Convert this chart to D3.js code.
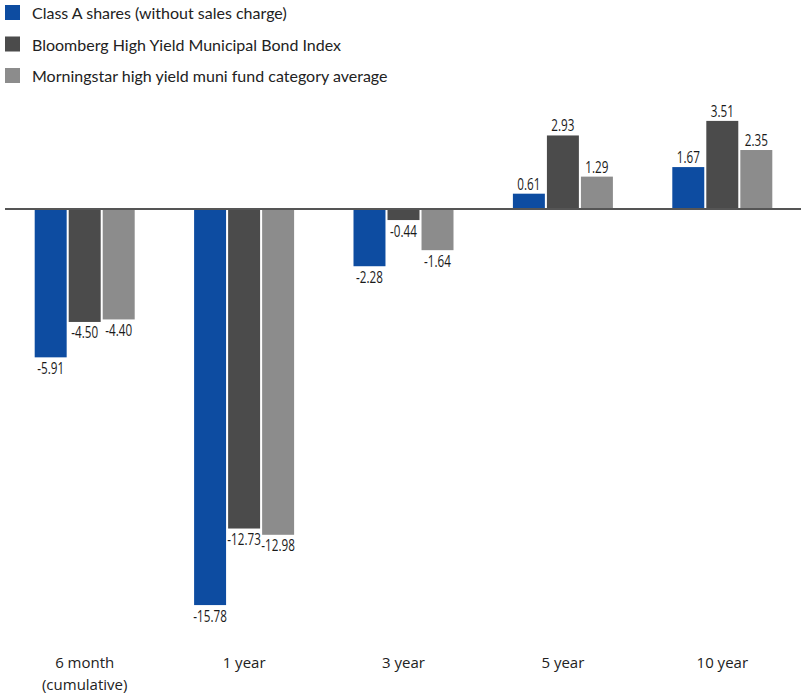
<!DOCTYPE html>
<html>
<head>
<meta charset="utf-8">
<script src="https://cdn.jsdelivr.net/npm/d3@7"></script>
<style>
  body { margin: 0; background: #fff; }
  svg { display: block; }
  .legend text { font-family: Lato, "Open Sans", sans-serif; fill: #222; }
  .cat text { font-family: "Open Sans", "Noto Sans", sans-serif; fill: #222; }
  .val { font-family: "Open Sans", "Noto Sans", sans-serif; fill: #1a1a1a; }
</style>
</head>
<body>
<div id="chart"></div>
<script>
var width = 801;
var height = 696;

// data
var periods = ['6 month\n(cumulative)', '1 year', '3 year', '5 year', '10 year'];
var series = [
  'Class A shares (without sales charge)',
  'Bloomberg High Yield Municipal Bond Index',
  'Morningstar high yield muni fund category average'
];
var classA = [-5.91, -15.78, -2.28, 0.61, 1.67];
var bloomberg = [-4.50, -12.73, -0.44, 2.93, 3.51];
var morningstar = [-4.40, -12.98, -1.64, 1.29, 2.35];
var colors = ['#0d4ca1', '#4b4b4b', '#8c8c8c'];

var values = [classA, bloomberg, morningstar];

var svg = d3.select('#chart')
  .append('svg')
  .attr('width', width)
  .attr('height', height);

var x0 = d3.scaleBand()
  .domain(periods)
  .range([5, 802]);

var x1 = d3.scaleBand()
  .domain(series)
  .range([0, 100])
  .paddingInner(0.06);

var y = d3.scaleLinear()
  .domain([-16, 4])
  .range([209 + 16 * 25.1, 209 - 4 * 25.1]);

// legend
var legend = svg.append('g').attr('class', 'legend')
  .selectAll('g')
  .data(series)
  .enter().append('g')
  .attr('transform', function(d, i) { return 'translate(5,' + (5 + i * 31.5) + ')'; });

legend.append('rect')
  .attr('width', 15)
  .attr('height', 15)
  .attr('fill', function(d, i) { return colors[i]; });

legend.append('text')
  .attr('x', 27)
  .attr('y', 14)
  .style('font-size', '16px')
  .text(function(d) { return d; });

// bars
var rows = [];
periods.forEach(function(p, i) {
  series.forEach(function(s, j) {
    rows.push({ period: p, series: s, j: j, value: values[j][i] });
  });
});

var groupStart = function(p) { return x0(p) + x0.bandwidth() / 2 - 50; };

svg.append('g')
  .selectAll('rect')
  .data(rows)
  .enter().append('rect')
  .attr('x', function(d) { return groupStart(d.period) + x1(d.series); })
  .attr('width', x1.bandwidth())
  .attr('y', function(d) { return y(Math.max(0, d.value)); })
  .attr('height', function(d) { return Math.abs(y(d.value) - y(0)); })
  .attr('fill', function(d) { return colors[d.j]; });

// value labels (narrowed to mimic a condensed face)
svg.append('g')
  .selectAll('text')
  .data(rows)
  .enter().append('text')
  .attr('class', 'val')
  .attr('text-anchor', 'middle')
  .style('font-size', '16px')
  .attr('transform', function(d) {
    var cx = groupStart(d.period) + x1(d.series) + x1.bandwidth() / 2;
    var ty = d.value < 0 ? y(d.value) + 16.5 : y(d.value) - 4;
    return 'translate(' + cx + ',' + ty + ') scale(0.73,1)';
  })
  .text(function(d) { return d.value.toFixed(2); });

// zero line
svg.append('line')
  .attr('x1', 5)
  .attr('x2', width)
  .attr('y1', y(0))
  .attr('y2', y(0))
  .attr('stroke', '#555')
  .attr('stroke-width', 2);

// category labels
var cat = svg.append('g').attr('class', 'cat')
  .selectAll('text')
  .data(periods)
  .enter().append('text')
  .attr('text-anchor', 'middle')
  .style('font-size', '15px')
  .attr('x', function(d) { return x0(d) + x0.bandwidth() / 2; })
  .attr('y', 668);

cat.selectAll('tspan')
  .data(function(d) { return d.split('\n'); })
  .enter().append('tspan')
  .attr('x', function() { return d3.select(this.parentNode).attr('x'); })
  .attr('dy', function(d, i) { return i === 0 ? 0 : 22; })
  .text(function(d) { return d; });
</script>
</body>
</html>
